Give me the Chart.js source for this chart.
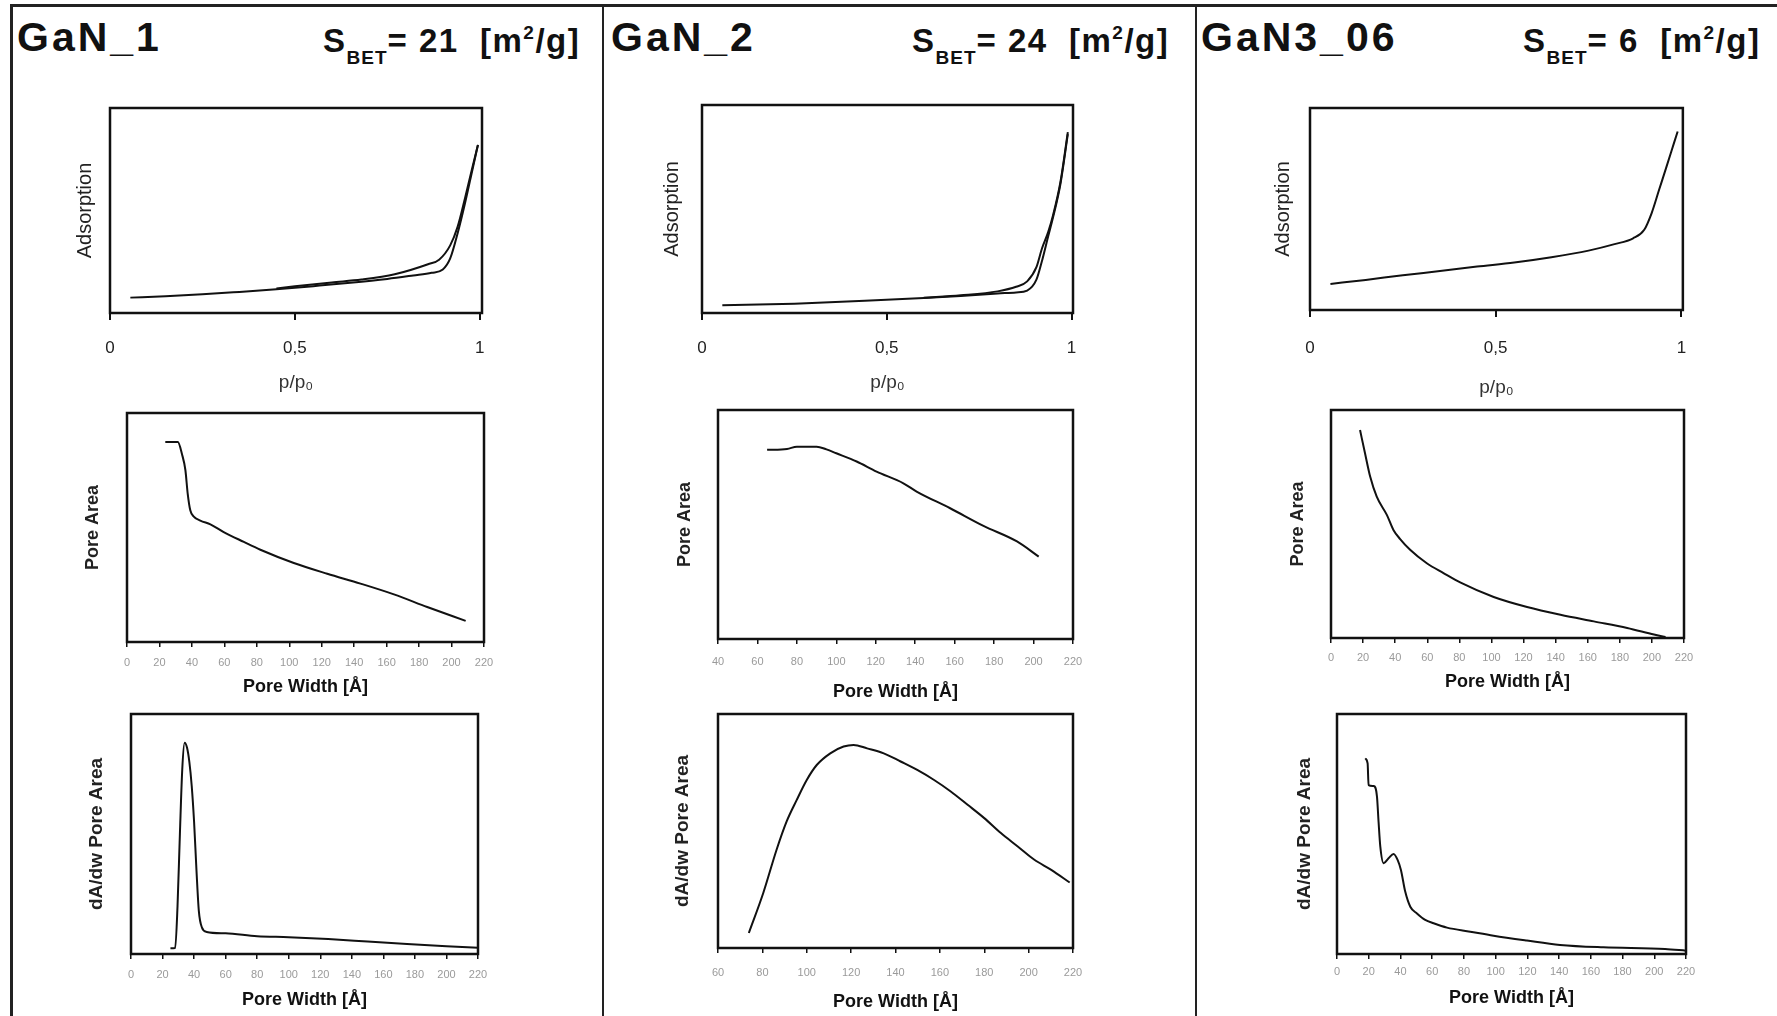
<!DOCTYPE html>
<html>
<head>
<meta charset="utf-8">
<script src="https://cdn.jsdelivr.net/npm/chart.js@4.4.1/dist/chart.umd.min.js"></script>
<style>
body { margin:0; background:#fff; width:1777px; height:1016px; overflow:hidden; position:relative; font-family:"Liberation Sans", Arial, sans-serif; }
.rule { position:absolute; background:#222; }
.name { position:absolute; font-weight:bold; font-size:41px; line-height:1; letter-spacing:3px; color:#111; white-space:nowrap; }
.sbet { position:absolute; font-weight:bold; font-size:33px; line-height:1; letter-spacing:1.5px; color:#111; white-space:nowrap; }
.sbet .sub { font-size:19px; position:relative; top:12px; letter-spacing:1px; }
.sbet .sup { font-size:19px; position:relative; top:-13px; }
canvas { position:absolute; }
</style>
</head>
<body>
<div class="rule" style="left:10px;top:4px;width:1767px;height:3px"></div>
<div class="rule" style="left:10px;top:4px;width:3px;height:1012px"></div>
<div class="rule" style="left:602px;top:4px;width:2px;height:1012px"></div>
<div class="rule" style="left:1195px;top:4px;width:2px;height:1012px"></div>

<div class="name" style="left:17px;top:17px">GaN_1</div>
<div class="sbet" style="left:323px;top:24px">S<span class="sub">BET</span>= 21 &nbsp;[m<span class="sup">2</span>/g]</div>
<div class="name" style="left:611px;top:17px">GaN_2</div>
<div class="sbet" style="left:912px;top:24px">S<span class="sub">BET</span>= 24 &nbsp;[m<span class="sup">2</span>/g]</div>
<div class="name" style="left:1201px;top:17px">GaN3_06</div>
<div class="sbet" style="left:1523px;top:24px">S<span class="sub">BET</span>= 6 &nbsp;[m<span class="sup">2</span>/g]</div>

<script>
// DATA
// tick labels
let isoTicks = [0, 0.5, 1];
let widthTicks0 = [0, 20, 40, 60, 80, 100, 120, 140, 160, 180, 200, 220];
let widthTicks40 = [40, 60, 80, 100, 120, 140, 160, 180, 200, 220];
let widthTicks60 = [60, 80, 100, 120, 140, 160, 180, 200, 220];

// isotherms (p/p0 vs adsorbed amount, arbitrary units)
let gan1AdsP = [0.055, 0.15, 0.25, 0.35, 0.45, 0.55, 0.65, 0.75, 0.82, 0.87, 0.9, 0.92, 0.94, 0.96, 0.98, 0.995];
let gan1AdsV = [7.5, 8.2, 9.1, 10.3, 11.6, 13.1, 14.7, 16.6, 18.3, 19.6, 21.2, 26.6, 38.8, 53.5, 69.8, 82];
let gan1DesP = [0.45, 0.5, 0.6, 0.68, 0.77, 0.86, 0.89, 0.92, 0.94, 0.96, 0.98, 0.995];
let gan1DesV = [12.0, 13.0, 14.9, 16.3, 18.9, 23.8, 26, 33, 42, 56, 71, 82];

let gan2AdsP = [0.055, 0.25, 0.47, 0.6, 0.7, 0.8, 0.85, 0.88, 0.905, 0.92, 0.937, 0.95, 0.97, 0.99];
let gan2AdsV = [3.7, 4.5, 6.1, 7.2, 8.2, 9.4, 9.9, 10.8, 16, 25, 37, 46, 62, 86];
let gan2DesP = [0.6, 0.7, 0.8, 0.85, 0.88, 0.905, 0.92, 0.937, 0.95, 0.97, 0.99];
let gan2DesV = [7.3, 8.5, 10.4, 12.6, 15.2, 22, 31, 39, 47, 63, 87];

let gan3AdsP = [0.055, 0.15, 0.25, 0.35, 0.45, 0.55, 0.65, 0.75, 0.82, 0.87, 0.9, 0.92, 0.94, 0.96, 0.98, 0.99];
let gan3AdsV = [12.9, 14.9, 17.2, 19.3, 21.5, 23.5, 26.1, 29.4, 32.6, 35.5, 39.7, 48, 59.5, 71, 82.6, 88.4];

// cumulative pore area vs pore width [A]
let gan1AreaW = [23.6, 31.3, 33.9, 36, 37.4, 39, 41, 45.2, 51.4, 59.6, 72, 82.2, 102.8, 123.4, 143.9, 164.5, 185, 208.7];
let gan1Area = [87.3, 87.3, 82, 75, 64.8, 57.5, 54.9, 53, 51.4, 48, 43.7, 40.3, 34.5, 29.8, 25.5, 20.8, 15.3, 9.2];

let gan2AreaW = [64.9, 75, 80, 90, 95, 100, 110.3, 120.4, 134, 140.7, 157.7, 174.6, 191.6, 202.6];
let gan2Area = [82.6, 83, 84, 84, 82.8, 81.1, 77.5, 73.1, 68, 64.4, 57.1, 49.4, 42.6, 36];

let gan3AreaW = [18.1, 21.2, 24.4, 28.5, 34.8, 38.9, 43.1, 49.3, 59.7, 70.1, 80.5, 101.4, 122.2, 143, 163.8, 184.6, 201.3, 208.5];
let gan3Area = [91.2, 81, 70.8, 62, 54, 47.4, 43.4, 38.7, 32.8, 28.5, 24.4, 18, 13.6, 10.2, 7.3, 4.4, 1.5, 0.4];

// dA/dw pore area distribution vs pore width [A]
let gan1DistW = [25, 28, 29.5, 31, 32.5, 34, 35.5, 37, 38.5, 40, 41.5, 43, 45, 48, 60, 80, 100, 125, 150, 175, 200, 220];
let gan1Dist = [2.4, 2.5, 20, 50, 77, 88, 86, 80, 70, 55, 35, 18, 11, 9.2, 8.6, 7.4, 7, 6.2, 5.2, 4.2, 3.2, 2.6];

let gan2DistW = [73.9, 80.4, 86.4, 90.9, 95.5, 100, 104.5, 110.6, 116.6, 121.1, 127.2, 134.7, 142.3, 149.8, 157.4, 164.9, 172.5, 180, 187.5, 195.1, 202.6, 210.2, 218.5];
let gan2Dist = [6.4, 23.5, 42, 54, 63.3, 71.8, 78.2, 83.2, 86.1, 86.8, 85.3, 83.2, 79.7, 76.1, 71.8, 66.9, 61.2, 55.5, 49.1, 43.4, 37.7, 33.4, 28];

let gan3DistW = [17.8, 19.3, 19.9, 23.1, 25.2, 26.2, 27.3, 29.4, 32.5, 35.7, 38.2, 40.3, 43, 46.2, 50.4, 55.6, 60.9, 69.3, 84, 98.7, 119.7, 140.6, 167.9, 206.8, 220];
let gan3Dist = [81.5, 79.4, 70.4, 70, 65.6, 55.1, 44.7, 37.8, 39.9, 41.7, 39.2, 35, 26, 19.7, 16.9, 14.2, 12.8, 11, 9.3, 7.6, 5.6, 3.8, 2.8, 2.1, 1.4];

// LAYOUT (plot box in page px, title/label offsets)
let panels = [
  {iso:true, l:110, t:108, r:482, b:313, xMin:0, xMax:1.006, ticks:isoTicks, tickOff:35, titleY:383, yGap:25, xTitle:'p/p₀', yTitle:'Adsorption', series:[[gan1AdsP, gan1AdsV], [gan1DesP, gan1DesV]]},
  {iso:true, l:702, t:105, r:1073, b:313, xMin:0, xMax:1.004, ticks:isoTicks, tickOff:35, titleY:383, yGap:30, xTitle:'p/p₀', yTitle:'Adsorption', series:[[gan2AdsP, gan2AdsV], [gan2DesP, gan2DesV]]},
  {iso:true, l:1310, t:108, r:1683, b:310, xMin:0, xMax:1.004, ticks:isoTicks, tickOff:38, titleY:388, yGap:27, xTitle:'p/p₀', yTitle:'Adsorption', series:[[gan3AdsP, gan3AdsV]]},
  {iso:false, l:127, t:413, r:484, b:642, xMin:0, xMax:220, ticks:widthTicks0, tickOff:21, titleY:687, yGap:34, xTitle:'Pore Width [Å]', yTitle:'Pore Area', series:[[gan1AreaW, gan1Area]]},
  {iso:false, l:718, t:410, r:1073, b:639, xMin:40, xMax:220, ticks:widthTicks40, tickOff:23, titleY:692, yGap:33, xTitle:'Pore Width [Å]', yTitle:'Pore Area', series:[[gan2AreaW, gan2Area]]},
  {iso:false, l:1331, t:410, r:1684, b:638, xMin:0, xMax:220, ticks:widthTicks0, tickOff:20, titleY:682, yGap:33, xTitle:'Pore Width [Å]', yTitle:'Pore Area', series:[[gan3AreaW, gan3Area]]},
  {iso:false, l:131, t:714, r:478, b:954, xMin:0, xMax:220, ticks:widthTicks0, tickOff:21, titleY:1000, yGap:34, xTitle:'Pore Width [Å]', yTitle:'dA/dw Pore Area', series:[[gan1DistW, gan1Dist]]},
  {iso:false, l:718, t:714, r:1073, b:948, xMin:60, xMax:220, ticks:widthTicks60, tickOff:25, titleY:1002, yGap:35, xTitle:'Pore Width [Å]', yTitle:'dA/dw Pore Area', series:[[gan2DistW, gan2Dist]]},
  {iso:false, l:1337, t:714, r:1686, b:954, xMin:0, xMax:220, ticks:widthTicks0, tickOff:18, titleY:998, yGap:32, xTitle:'Pore Width [Å]', yTitle:'dA/dw Pore Area', series:[[gan3DistW, gan3Dist]]}
];

Chart.defaults.font.family = "'Liberation Sans', Arial, sans-serif";

function toXY(xs, ys) {
  return xs.map((x, i) => ({x: x, y: ys[i]}));
}

// box round the plot area
let framePlugin = {
  id: 'frame',
  afterDatasetsDraw(chart) {
    let a = chart.chartArea, ctx = chart.ctx;
    ctx.save();
    ctx.strokeStyle = '#111';
    ctx.lineWidth = 2.5;
    ctx.strokeRect(a.left, a.top, a.right - a.left, a.bottom - a.top);
    ctx.restore();
  }
};

panels.forEach(p => {
  let padL = 60, padR = 24, padT = 6;
  let tickSize = p.iso ? 17 : 11;
  let tickLen = p.iso ? 7 : 5;
  let xTitleSize = p.iso ? 19 : 18;
  let yTitleSize = p.iso ? 20 : (p.yTitle.length > 10 ? 19 : 18);
  let canvasTop = p.t - padT;
  let canvasBottom = Math.round(p.titleY + xTitleSize * 0.6);
  let axisH = canvasBottom - p.b;

  let cv = document.createElement('canvas');
  cv.width = p.r - p.l + padL + padR;
  cv.height = canvasBottom - canvasTop;
  cv.style.left = (p.l - padL) + 'px';
  cv.style.top = canvasTop + 'px';
  document.body.appendChild(cv);

  new Chart(cv, {
    type: 'line',
    data: {
      datasets: p.series.map(s => ({
        data: toXY(s[0], s[1]),
        borderColor: '#111',
        borderWidth: 2,
        pointRadius: 0,
        fill: false,
        cubicInterpolationMode: 'monotone'
      }))
    },
    options: {
      responsive: false,
      animation: false,
      layout: {padding: {left: 0, right: padR, top: padT, bottom: 0}},
      plugins: {legend: {display: false}, tooltip: {enabled: false}},
      scales: {
        x: {
          type: 'linear',
          min: p.xMin,
          max: p.xMax,
          afterBuildTicks: s => { s.ticks = p.ticks.map(v => ({value: v})); },
          afterFit: s => { s.height = axisH; },
          grid: {drawOnChartArea: false, drawTicks: true, tickLength: tickLen, color: '#111', lineWidth: p.iso ? 2 : 1.5},
          border: {display: false},
          ticks: {
            padding: p.tickOff - tickLen - tickSize * 0.6,
            color: p.iso ? '#222' : '#9a9a9a',
            font: {size: tickSize},
            maxRotation: 0,
            autoSkip: false,
            callback: v => p.iso ? String(v).replace('.', ',') : String(v)
          },
          title: {
            display: true,
            text: p.xTitle,
            color: p.iso ? '#333' : '#111',
            font: {size: xTitleSize, weight: p.iso ? 'normal' : 'bold'},
            padding: {top: 0, bottom: 0}
          }
        },
        y: {
          min: 0,
          max: 100,
          afterFit: s => { s.width = padL; },
          grid: {display: false},
          border: {display: false},
          ticks: {display: false},
          title: {
            display: true,
            text: p.yTitle,
            color: '#222',
            font: {size: yTitleSize, weight: p.iso ? 'normal' : 'bold'},
            padding: {top: padL - p.yGap - yTitleSize * 0.6, bottom: 0}
          }
        }
      }
    },
    plugins: [framePlugin]
  });
});
</script>
</body>
</html>
